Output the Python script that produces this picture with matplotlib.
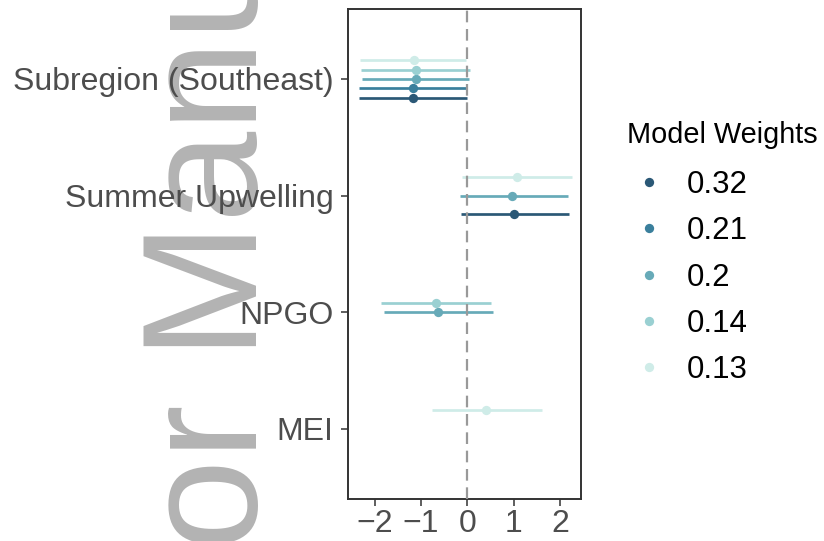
import matplotlib
matplotlib.use("Agg")
import matplotlib.pyplot as plt
from matplotlib.lines import Line2D

plt.rcParams['font.family'] = ['Liberation Sans', 'DejaVu Sans']
plt.rcParams['lines.scale_dashes'] = False

# covariates, bottom to top on the y axis
covariates = ['MEI', 'NPGO', 'Summer Upwelling', 'Subregion (Southeast)']

# model weights, legend order, with their colours and vertical dodge
weights = ['0.32', '0.21', '0.2', '0.14', '0.13']
colours = ['#2b5876', '#3a7f9c', '#67aab8', '#9ad0d2', '#cfece8']
dodge = [-0.16, -0.08, 0.0, 0.08, 0.16]

# one row per model coefficient
model = ['0.32', '0.32',
         '0.21',
         '0.2', '0.2', '0.2',
         '0.14', '0.14',
         '0.13', '0.13', '0.13']
term = ['Subregion (Southeast)', 'Summer Upwelling',
        'Subregion (Southeast)',
        'Subregion (Southeast)', 'Summer Upwelling', 'NPGO',
        'Subregion (Southeast)', 'NPGO',
        'Subregion (Southeast)', 'Summer Upwelling', 'MEI']
estimate = [-1.17, 1.01,
            -1.18,
            -1.11, 0.97, -0.64,
            -1.11, -0.68,
            -1.15, 1.07, 0.40]
lower = [-2.33, -0.14,
         -2.35,
         -2.27, -0.17, -1.81,
         -2.30, -1.86,
         -2.32, -0.11, -0.77]
upper = [-0.01, 2.19,
         -0.01,
         0.04, 2.17, 0.55,
         0.06, 0.51,
         -0.03, 2.26, 1.60]

fig = plt.figure(figsize=(8.24, 5.41), dpi=100)
ax = fig.add_axes([348 / 824, 42 / 541, 233 / 824, 490 / 541])

# stamp down the left side
fig.text(257 / 824, -346 / 541, 'Author Manuscript', rotation=90,
         rotation_mode='anchor', ha='left', va='baseline',
         fontsize=118, color='#b3b3b3', zorder=-1)

for m, t, est, lo, hi in zip(model, term, estimate, lower, upper):
    k = weights.index(m)
    y = covariates.index(t) + 1 + dodge[k]
    ax.hlines(y, lo, hi, color=colours[k], lw=1.95, zorder=2)
    ax.plot(est, y, 'o', color=colours[k], ms=6.7, mec='none', zorder=3)

ax.axvline(0, color='#999999', lw=1.6, linestyle=(0, (8.4, 4.8)), zorder=4)

ax.set_xlim(-2.577, 2.45)
ax.set_ylim(0.4, 4.6)
ax.set_xticks([-2, -1, 0, 1, 2])
ax.set_yticks(range(1, len(covariates) + 1))
ax.set_yticklabels(covariates)
ax.tick_params(axis='both', colors='#333333', labelcolor='#4d4d4d',
               labelsize=23, length=5, width=1.1)
ax.tick_params(axis='y', pad=5.5)
ax.tick_params(axis='x', pad=2.5)
for s in ax.spines.values():
    s.set_color('#333333')
    s.set_linewidth(1.4)

handles = [Line2D([], [], marker='o', ls='none', color=c, mec='none', ms=6.7)
           for c in colours]
fig.text(627 / 824, 1 - 143.4 / 541, 'Model Weights', fontsize=20.8,
         ha='left', va='baseline')
leg = fig.legend(handles, weights, loc='center left',
                 bbox_to_anchor=(627 / 824, 263.5 / 541), frameon=False,
                 fontsize=22.5, borderpad=0, borderaxespad=0,
                 handlelength=1.4, handletextpad=0.52, labelspacing=0.525)

fig.savefig('out.png', dpi=100)
